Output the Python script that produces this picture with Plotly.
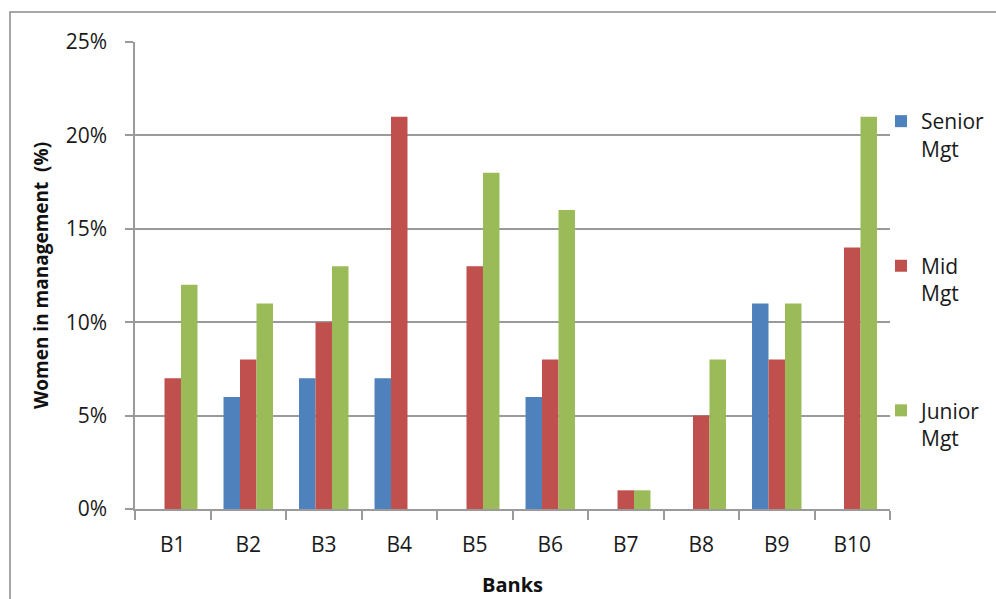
import plotly.graph_objects as go

# Share of women in management by bank (%)
banks = ["B1", "B2", "B3", "B4", "B5", "B6", "B7", "B8", "B9", "B10"]
senior_mgt = [0, 6, 7, 7, 0, 6, 0, 0, 11, 0]
mid_mgt = [7, 8, 10, 21, 13, 8, 1, 5, 8, 14]
junior_mgt = [12, 11, 13, 0, 18, 16, 1, 8, 11, 21]

series_names = ["Senior<br>Mgt", "Mid<br>Mgt", "Junior<br>Mgt"]
series_values = [senior_mgt, mid_mgt, junior_mgt]
series_colors = ["#4F81BD", "#C0504D", "#9BBB59"]

FONT = "Open Sans"
GRID = "#9a9a9a"

fig = go.Figure()
for name, vals, color in zip(series_names, series_values, series_colors):
    fig.add_trace(go.Bar(
        x=banks, y=vals, name=name, legendgroup=name,
        marker=dict(color=color, line=dict(width=0)),
    ))

W, H = 996, 599
ml, mr, mt, mb = 135, 106, 42, 90
pw, ph = W - ml - mr, H - mt - mb

def px_x(p):
    return (p - ml) / pw

def px_y(p):
    return (H - mb - p) / ph

fig.update_layout(
    width=W, height=H,
    margin=dict(l=ml, r=mr, t=mt, b=mb, autoexpand=False),
    paper_bgcolor="white", plot_bgcolor="white",
    font=dict(family=FONT, size=20, color="#1a1a1a"),
    barmode="group", bargap=0.345, bargroupgap=0,
    showlegend=True,
    legend=dict(
        x=px_x(881), xanchor="left", y=px_y(101), yanchor="top",
        traceorder="grouped", tracegroupgap=87, valign="top",
        font=dict(family=FONT, size=21, color="#1a1a1a"),
        bgcolor="rgba(0,0,0,0)",
    ),
    xaxis=dict(
        showline=True, linecolor=GRID, linewidth=1.5,
        ticks="outside", tickson="boundaries", ticklen=9, tickcolor=GRID, tickwidth=1.5,
        ticklabelstandoff=16,
        tickfont=dict(family=FONT, size=21, color="#1a1a1a"),
        title=dict(text="<b>Banks</b>", font=dict(family=FONT, size=20, color="#111"), standoff=21),
        showgrid=False,
    ),
    yaxis=dict(
        range=[0, 25], dtick=5, ticksuffix="%",
        showline=True, linecolor=GRID, linewidth=1.5,
        ticks="outside", ticklen=8, tickcolor=GRID, tickwidth=1.5,
        ticklabelstandoff=14,
        tickfont=dict(family=FONT, size=21, color="#1a1a1a"),
        showgrid=True, gridcolor=GRID, gridwidth=1.5,
        zeroline=False,
        title=dict(text="<b>Women in management  (%)</b>",
                   font=dict(family=FONT, size=19, color="#111"), standoff=12),
    ),
    shapes=[dict(
        type="rect", xref="paper", yref="paper",
        x0=px_x(10), x1=px_x(1010), y0=px_y(620), y1=px_y(12),
        line=dict(color="#8a8a8a", width=1.5), layer="below",
    )],
)

fig.write_html("out.html")
